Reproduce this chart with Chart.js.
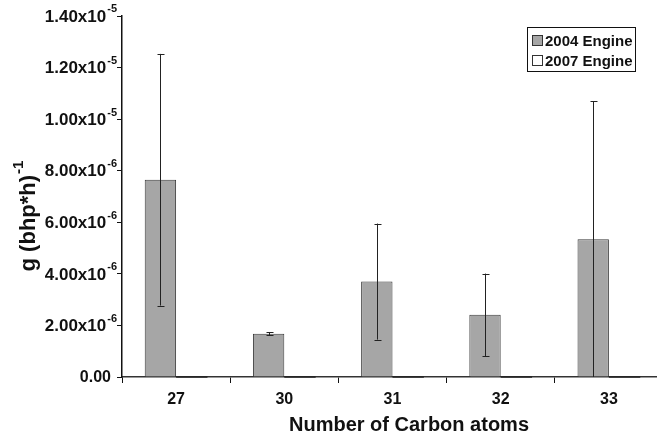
<!DOCTYPE html>
<html>
<head>
<meta charset="utf-8">
<script src="https://cdn.jsdelivr.net/npm/chart.js@4"></script>
<style>
  html, body { margin: 0; padding: 0; background: #fff; overflow: hidden; }
  #wrap { width: 700px; height: 434px; }
</style>
</head>
<body>
<div id="wrap"><canvas id="chart" width="700" height="434"></canvas></div>
<script>
const categories = ['27', '30', '31', '32', '33'];
const engine2004 = [7.65e-6, 1.68e-6, 3.70e-6, 2.41e-6, 5.34e-6];
const error2004 = [4.88e-6, 0.05e-6, 2.25e-6, 1.60e-6, 5.35e-6];
const engine2007 = [0, 0, 0, 0, 0];
const seriesNames = ['2004 Engine', '2007 Engine'];
const xTitle = 'Number of Carbon atoms';
const yTitle = 'g (bhp*h)';
const yTitleSup = '-1';

const FONT = '"Liberation Sans", Arial, sans-serif';

// draws base text + superscript, aligned at x
const drawSup = (ctx, base, sup, x, y, size, align) => {
    const ss = Math.round(size * 0.66);
    ctx.font = `bold ${size}px ${FONT}`;
    const wb = ctx.measureText(base).width;
    ctx.font = `bold ${ss}px ${FONT}`;
    const ws = sup ? ctx.measureText(sup).width + 1 : 0;
    let start = x;
    if (align === 'right') start = x - wb - ws;
    if (align === 'center') start = x - (wb + ws) / 2;
    ctx.textAlign = 'left';
    ctx.textBaseline = 'middle';
    ctx.font = `bold ${size}px ${FONT}`;
    ctx.fillText(base, start, y);
    if (sup) {
        ctx.font = `bold ${ss}px ${FONT}`;
        ctx.fillText(sup, start + wb + 1, y - size * 0.45);
    }
};

const decorations = {
    id: 'decorations',
    afterDatasetsDraw(chart) {
        const ctx = chart.ctx;
        const y = chart.scales.y;
        const meta = chart.getDatasetMeta(0);
        const meta2 = chart.getDatasetMeta(1);
        ctx.save();
        // zero-height 2007 bars show as a dark line on the baseline
        ctx.strokeStyle = '#222';
        ctx.lineWidth = 1.5;
        meta2.data.forEach((bar) => {
            ctx.beginPath();
            ctx.moveTo(bar.x - bar.width / 2, bar.y);
            ctx.lineTo(bar.x + bar.width / 2, bar.y);
            ctx.stroke();
        });
        // error bars
        ctx.strokeStyle = '#222';
        ctx.lineWidth = 1;
        meta.data.forEach((bar, i) => {
            const v = engine2004[i], e = error2004[i];
            const top = y.getPixelForValue(v + e);
            const bot = y.getPixelForValue(Math.max(v - e, 0));
            const cx = Math.round(bar.x) + 0.5;
            ctx.beginPath();
            ctx.moveTo(cx, top);
            ctx.lineTo(cx, bot);
            ctx.moveTo(cx - 3, Math.round(top) + 0.5);
            ctx.lineTo(cx + 4, Math.round(top) + 0.5);
            if (v - e > 0) {
                ctx.moveTo(cx - 3, Math.round(bot) + 0.5);
                ctx.lineTo(cx + 4, Math.round(bot) + 0.5);
            }
            ctx.stroke();
        });
        ctx.restore();
    },
    afterDraw(chart) {
        const ctx = chart.ctx;
        const ys = chart.scales.y;
        const xs = chart.scales.x;
        ctx.save();
        ctx.fillStyle = '#111';
        // y tick labels with powers of ten
        ys.ticks.forEach(t => {
            const v = t.value;
            const py = ys.getPixelForValue(v);
            if (v === 0) {
                drawSup(ctx, '0.00', '', 111, py + 1, 16, 'right');
            } else {
                const ex = Math.floor(Math.log10(v) + 1e-9);
                const m = (v / Math.pow(10, ex)).toFixed(2);
                drawSup(ctx, m + 'x10', String(ex), 117, py + 1, 17, 'right');
            }
        });
        // x tick labels
        ctx.font = `bold 16px ${FONT}`;
        ctx.textAlign = 'center';
        ctx.textBaseline = 'middle';
        categories.forEach((c, i) => {
            ctx.fillText(c, xs.getPixelForValue(i), 400);
        });
        // axis titles
        ctx.font = `bold 20px ${FONT}`;
        ctx.fillText(xTitle, 409, 425);
        ctx.save();
        ctx.translate(29, 216);
        ctx.rotate(-Math.PI / 2);
        drawSup(ctx, yTitle, yTitleSup, 0, 0, 22, 'center');
        ctx.restore();
        // legend
        ctx.fillStyle = '#fff';
        ctx.fillRect(527.5, 27.5, 108, 44);
        ctx.strokeStyle = '#111';
        ctx.lineWidth = 1;
        ctx.strokeRect(527.5, 27.5, 108, 44);
        const swatch = ['#a6a6a6', '#ffffff'];
        seriesNames.forEach((n, i) => {
            const ly = 41 + i * 20;
            ctx.fillStyle = swatch[i];
            ctx.fillRect(532.5, ly - 5.5, 10, 10);
            ctx.strokeStyle = '#333';
            ctx.strokeRect(532.5, ly - 5.5, 10, 10);
            ctx.fillStyle = '#111';
            ctx.font = `bold 15px ${FONT}`;
            ctx.textAlign = 'left';
            ctx.textBaseline = 'middle';
            ctx.fillText(n, 545, ly + 1);
        });
        ctx.restore();
    }
};

new Chart(document.getElementById('chart').getContext('2d'), {
    type: 'bar',
    data: {
        labels: categories,
        datasets: [
            {
                label: seriesNames[0],
                data: engine2004,
                backgroundColor: '#a6a6a6',
                borderColor: '#3a3a3a',
                borderWidth: 1,
                categoryPercentage: 0.58,
                barPercentage: 1.0,
            },
            {
                label: seriesNames[1],
                data: engine2007,
                backgroundColor: '#ffffff',
                borderColor: '#3a3a3a',
                borderWidth: 1,
                categoryPercentage: 0.58,
                barPercentage: 1.0,
            }
        ]
    },
    options: {
        responsive: false,
        animation: false,
        devicePixelRatio: 1,
        layout: { padding: { top: 16, right: 37, left: 0, bottom: 0 } },
        scales: {
            x: {
                grid: {
                    display: true,
                    offset: true,
                    drawOnChartArea: false,
                    color: '#111',
                    tickLength: 6,
                },
                border: { color: '#333', width: 1.5 },
                ticks: { display: false },
                afterFit: (s) => { s.height = 434 - 16 - 361; },
            },
            y: {
                min: 0,
                max: 1.4e-5,
                ticks: { stepSize: 2e-6, display: false },
                grid: {
                    display: true,
                    drawOnChartArea: false,
                    color: '#111',
                    tickLength: 5,
                },
                border: { color: '#111', width: 1.5 },
                afterFit: (s) => { s.width = 122; },
            }
        },
        plugins: {
            legend: { display: false },
            tooltip: { enabled: false },
        }
    },
    plugins: [decorations]
});
</script>
</body>
</html>
